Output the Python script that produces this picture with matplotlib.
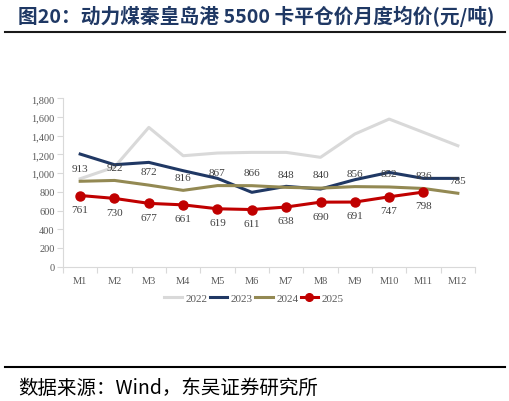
import matplotlib
matplotlib.use("Agg")
import matplotlib.pyplot as plt
from matplotlib.lines import Line2D

months = ["M1", "M2", "M3", "M4", "M5", "M6", "M7", "M8", "M9", "M10", "M11", "M12"]
y2022 = [940, 1065, 1489, 1186, 1215, 1222, 1222, 1169, 1418, 1578, 1436, 1293]
y2023 = [1204, 1090, 1115, 1026, 944, 795, 859, 830, 930, 1008, 944, 944]
y2024 = [913, 922, 872, 816, 867, 866, 848, 840, 856, 852, 836, 785]
y2025 = [761, 730, 677, 661, 619, 611, 638, 690, 691, 747, 798]
series_names = ["2022", "2023", "2024", "2025"]
yticks = [0, 200, 400, 600, 800, 1000, 1200, 1400, 1600, 1800]

CJK = ["Noto Sans CJK SC", "DejaVu Sans"]
SERIF = ["Liberation Serif", "DejaVu Serif"]

fig = plt.figure(figsize=(5.10, 4.02), dpi=100)
W, H = 510, 402
ax = fig.add_axes([63 / W, 1 - 267.7 / H, (475 - 63) / W, (267.7 - 99.3) / H])

x = list(range(len(months)))
c22, c23, c24, c25 = "#d9d9d9", "#203864", "#938953", "#c00000"
ax.plot(x, y2022, color=c22, lw=2.2, zorder=2)
ax.plot(x, y2023, color=c23, lw=2.2, zorder=3)
ax.plot(x, y2024, color=c24, lw=2.2, zorder=4)
ax.plot(x[:len(y2025)], y2025, color=c25, lw=2.2, marker="o", ms=6.5, zorder=5)

for i, v in enumerate(y2024):
    ax.annotate(str(v), (i, v), xytext=(0, 9.5), textcoords="offset points",
                ha="center", va="center", fontsize=8, color="#404040", family=SERIF, zorder=6)
for i, v in enumerate(y2025):
    ax.annotate(str(v), (i, v), xytext=(0, -10), textcoords="offset points",
                ha="center", va="center", fontsize=8, color="#404040", family=SERIF, zorder=6)

ax.set_xlim(-0.5, len(months) - 0.5)
ax.set_ylim(0, 1800)
ax.set_yticks(yticks)
ax.set_yticklabels([f"{v:,}" for v in yticks], family=SERIF, fontsize=7.5, color="#595959")
ax.set_xticks(x)
ax.set_xticklabels(months, family=SERIF, fontsize=7.5, color="#595959")
ax.set_xticks([i - 0.5 for i in range(len(months) + 1)], minor=True)
ax.tick_params(axis="x", which="major", length=0, pad=7)
ax.tick_params(axis="x", which="minor", length=4, color="#d9d9d9", width=0.8)
ax.tick_params(axis="y", which="major", length=4, color="#d9d9d9", width=0.8, pad=2)
for s in ["top", "right"]:
    ax.spines[s].set_visible(False)
for s in ["left", "bottom"]:
    ax.spines[s].set_color("#d9d9d9")
    ax.spines[s].set_linewidth(0.8)

handles = [
    Line2D([], [], color=c22, lw=2.2),
    Line2D([], [], color=c23, lw=2.2),
    Line2D([], [], color=c24, lw=2.2),
    Line2D([], [], color=c25, lw=2.2, marker="o", ms=5.5),
]
leg = fig.legend(handles, series_names, loc="center", bbox_to_anchor=(254 / W, 1 - 299 / H),
                 ncol=4, frameon=False, handlelength=1.6, handletextpad=0.3, columnspacing=0.2,
                 prop={"family": SERIF, "size": 8})
for t in leg.get_texts():
    t.set_color("#595959")

fig.text(18 / W, 1 - 16 / H, "图20：动力煤秦皇岛港 5500 卡平仓价月度均价(元/吨)", family=CJK,
         fontsize=14.2, fontweight="bold", color="#1f3864", ha="left", va="center")
fig.add_artist(Line2D([5 / W, 505 / W], [1 - 33 / H, 1 - 33 / H], color="#1a1a1a", lw=1.5))
fig.add_artist(Line2D([5 / W, 505 / W], [1 - 368 / H, 1 - 368 / H], color="#000000", lw=1.5))
fig.text(18 / W, 1 - 388 / H, "数据来源：Wind，东吴证券研究所", family=CJK,
         fontsize=14, color="#000000", ha="left", va="center")

fig.savefig("out.png", dpi=100)
